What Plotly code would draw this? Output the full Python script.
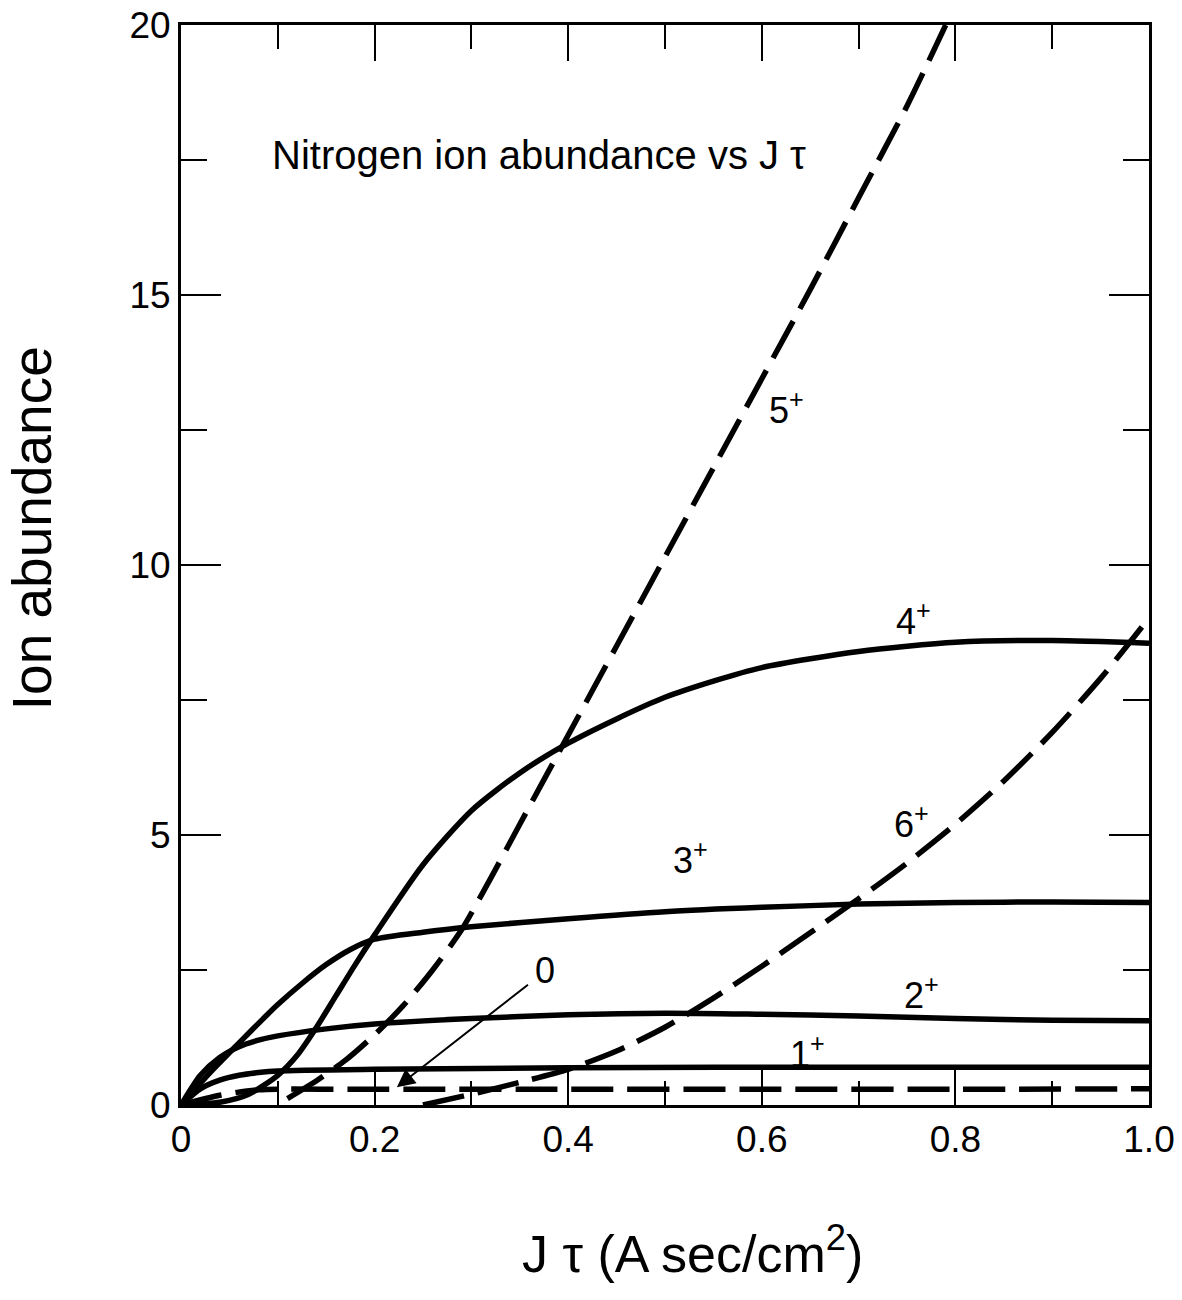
import plotly.graph_objects as go

# ---- data ----
x_n0 = [0.0, 0.04, 0.08, 0.2, 0.4, 0.6, 0.8, 1.0]
y_n0 = [0.0, 0.18, 0.28, 0.29, 0.29, 0.29, 0.29, 0.30]

x_n1 = [0.0, 0.02, 0.04, 0.06, 0.08, 0.1, 0.2, 0.4, 0.7, 1.0]
y_n1 = [0.0, 0.30, 0.46, 0.55, 0.60, 0.63, 0.66, 0.69, 0.70, 0.70]

x_n2 = [0.0, 0.02, 0.04, 0.06, 0.08, 0.1, 0.15, 0.2, 0.3, 0.4, 0.5, 0.6, 0.7, 0.8, 0.9, 1.0]
y_n2 = [0.0, 0.55, 0.88, 1.08, 1.20, 1.28, 1.41, 1.50, 1.60, 1.67, 1.70, 1.68, 1.65, 1.60, 1.57, 1.56]

x_n3 = [0.0, 0.03, 0.06, 0.085, 0.1, 0.125, 0.15, 0.175, 0.2, 0.25, 0.3, 0.4, 0.5, 0.6, 0.7, 0.8, 0.9, 1.0]
y_n3 = [0.0, 0.60, 1.15, 1.60, 1.86, 2.25, 2.60, 2.88, 3.07, 3.20, 3.30, 3.45, 3.58, 3.66, 3.72, 3.75, 3.76, 3.75]

x_n4 = [0.0, 0.04, 0.07, 0.1, 0.12, 0.14, 0.16, 0.18, 0.2, 0.25, 0.3, 0.35, 0.4, 0.45, 0.5, 0.55, 0.6, 0.7, 0.8, 0.9, 1.0]
y_n4 = [0.0, 0.05, 0.20, 0.55, 0.92, 1.44, 2.02, 2.60, 3.15, 4.45, 5.45, 6.15, 6.70, 7.15, 7.55, 7.85, 8.10, 8.40, 8.57, 8.60, 8.55]

x_n5 = [0.11, 0.14, 0.17, 0.2, 0.23, 0.26, 0.29, 0.32, 0.35, 0.4, 0.45, 0.5, 0.55, 0.6, 0.65, 0.7, 0.75, 0.79]
y_n5 = [0.12, 0.45, 0.83, 1.30, 1.85, 2.50, 3.25, 4.20, 5.20, 6.85, 8.50, 10.15, 11.8, 13.45, 15.1, 16.8, 18.5, 20.0]

x_n6 = [0.25, 0.3, 0.35, 0.4, 0.45, 0.5, 0.55, 0.6, 0.65, 0.7, 0.75, 0.8, 0.85, 0.9, 0.95, 1.0]
y_n6 = [0.0, 0.20, 0.42, 0.66, 1.00, 1.44, 1.98, 2.57, 3.19, 3.82, 4.48, 5.20, 6.00, 6.90, 7.90, 9.02]

labels = ["0", "1<sup>+</sup>", "2<sup>+</sup>", "3<sup>+</sup>", "4<sup>+</sup>", "5<sup>+</sup>", "6<sup>+</sup>"]
label_x = [0.376, 0.647, 0.765, 0.526, 0.757, 0.626, 0.755]
label_y = [2.50, 0.98, 2.08, 4.58, 9.00, 12.9, 5.25]

title_text = "Nitrogen ion abundance vs J \u03c4"
x_title = "J \u03c4 (A sec/cm<sup>2</sup>)"
y_title = "Ion abundance"

x_tickvals = [0, 0.2, 0.4, 0.6, 0.8, 1.0]
x_ticktext = ["0", "0.2", "0.4", "0.6", "0.8", "1.0"]
y_tickvals = [0, 5, 10, 15, 20]
y_ticktext = ["0", "5", "10", "15", "20"]

# ---- figure ----
FONT = "Liberation Sans, Arial, sans-serif"
fig = go.Figure()

series = [
    (x_n0, y_n0, "dash"),
    (x_n1, y_n1, "solid"),
    (x_n2, y_n2, "solid"),
    (x_n3, y_n3, "solid"),
    (x_n4, y_n4, "solid"),
    (x_n5, y_n5, "dash"),
    (x_n6, y_n6, "dash"),
]
for xs, ys, style in series:
    fig.add_trace(go.Scatter(
        x=xs, y=ys, mode="lines",
        line=dict(color="black", width=5.5, shape="spline", smoothing=0.7,
                  dash="42px,14px" if style == "dash" else "solid"),
        showlegend=False, hoverinfo="skip"))

for t, lx, ly in zip(labels, label_x, label_y):
    fig.add_annotation(x=lx, y=ly, text=t, showarrow=False,
                       font=dict(family=FONT, size=36, color="black"))

# arrow from "0" label to neutral curve
fig.add_annotation(x=0.223, y=0.33, ax=0.36, ay=2.25, axref="x", ayref="y",
                   text="", showarrow=True, arrowhead=2, arrowsize=1.8,
                   arrowwidth=2, arrowcolor="black")

fig.add_annotation(x=0.092, y=17.6, xanchor="left", text=title_text, showarrow=False,
                   font=dict(family=FONT, size=40, color="black"))

fig.add_annotation(x=0.528, y=-0.134, xref="paper", yref="paper", xanchor="center",
                   yanchor="middle", text=x_title, showarrow=False,
                   font=dict(family=FONT, size=52, color="black"))
fig.add_annotation(x=-0.154, y=0.534, xref="paper", yref="paper", textangle=-90,
                   xanchor="center", yanchor="middle",
                   text=y_title, showarrow=False,
                   font=dict(family=FONT, size=55, color="black"))

axis_common = dict(
    showgrid=False, zeroline=False, showline=True, linecolor="black", linewidth=3,
    mirror="allticks", ticks="inside", tickcolor="black", tickwidth=2,
    automargin=False,
    tickfont=dict(family=FONT, size=37, color="black"),
)
fig.update_xaxes(range=[0, 1.0], tickvals=x_tickvals, ticktext=x_ticktext, ticklen=36,
                 minor=dict(dtick=0.1, tick0=0, ticks="inside", ticklen=24,
                            tickcolor="black", tickwidth=2),
                 **axis_common)
fig.update_yaxes(range=[0, 20], tickvals=y_tickvals, ticktext=y_ticktext, ticklen=40,
                 minor=dict(dtick=2.5, tick0=0, ticks="inside", ticklen=26,
                            tickcolor="black", tickwidth=2),
                 **axis_common)

fig.update_layout(
    width=1182, height=1300,
    margin=dict(l=181, r=33, t=25, b=195, autoexpand=False),
    plot_bgcolor="white", paper_bgcolor="white",
)
fig.write_html("out.html")
